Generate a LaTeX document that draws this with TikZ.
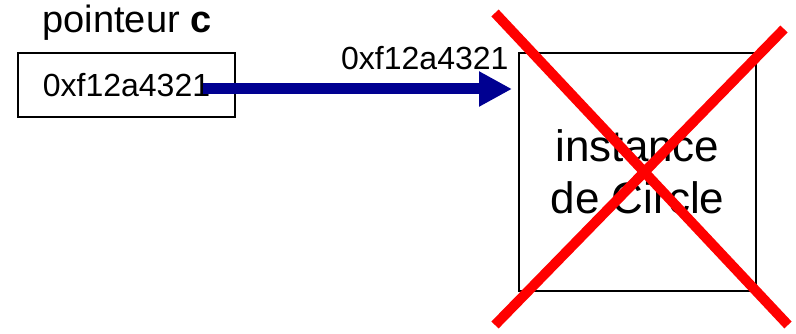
\documentclass[tikz,border=0pt]{standalone}
\usepackage{fontspec}
\setmainfont{Liberation Sans}
\usepackage{xcolor}
\usepackage{tikz}
\usetikzlibrary{arrows.meta, positioning}

\definecolor{pointerblue}{RGB}{0,0,145}
\definecolor{crossred}{RGB}{255,0,0}

\tikzset{
	membox/.style = {draw, line width = 2pt, inner sep = 0pt},
	addr/.style = {font = \fontsize{32}{38}\selectfont},
	pointsto/.style = {pointerblue, line width = 11pt, -{Triangle[length=33pt, width=33pt]}},
	crossout/.style = {crossred, line width = 10pt}
}

\begin{document}
\begin{tikzpicture}[x=1pt, y=-1pt]
			\def\W{796};
			\def\H{334};

			\useasboundingbox (0,0) rectangle (\W,\H);

			\begin{scope}
				\node [membox, addr, minimum width = 217pt, minimum height = 64pt] (ptr) at (126.5,85) {0xf12a4321};
				\node [anchor = base, font = \fontsize{38}{44}\selectfont] (ptrname) at (127,33) {pointeur \textbf{c}};

				\node [membox, minimum width = 237pt, minimum height = 238pt, align = center,
					font = \fontsize{44}{52}\selectfont] (inst) at (637.5,172) {instance\\de Circle};
			\end{scope}

			\begin{scope}
				\coordinate (ptrend) at (203,89);
				\draw [pointsto, shorten >= 6pt] (ptrend) -- (ptrend -| inst.west);
				\node [addr, anchor = base east] (addrlabel) at (512,70) {0xf12a4321};
			\end{scope}

			\begin{scope}
				\coordinate (xa) at (495,13);
				\coordinate (xb) at (788,325);
				\coordinate (xc) at (784,29);
				\coordinate (xd) at (495,325);
				\draw [crossout] (xa) -- (xb);
				\draw [crossout] (xc) -- (xd);
			\end{scope}
		\end{tikzpicture}
\end{document}
